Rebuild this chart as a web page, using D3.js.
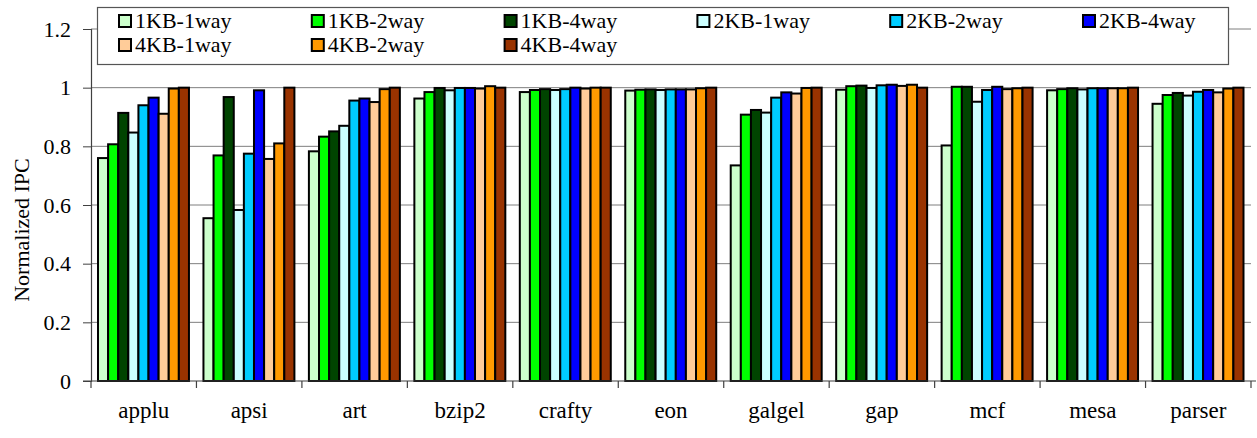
<!DOCTYPE html>
<html>
<head>
<meta charset="utf-8">
<script src="https://cdn.jsdelivr.net/npm/d3@7/dist/d3.min.js"></script>
<style>
  html, body { margin: 0; padding: 0; background: #fff; }
  svg { display: block; }
  svg text { font-family: "Liberation Serif", "Times New Roman", Times, "DejaVu Serif", serif !important; fill: #000; }
</style>
</head>
<body>
<svg id="chart" width="1257" height="438"></svg>
<script>
// Benchmarks on the x axis
const benchmarks = ["applu", "apsi", "art", "bzip2", "crafty", "eon", "galgel", "gap", "mcf", "mesa", "parser"];

// Cache configurations (one bar per configuration in each group)
const configs = ["1KB-1way", "1KB-2way", "1KB-4way", "2KB-1way", "2KB-2way", "2KB-4way", "4KB-1way", "4KB-2way", "4KB-4way"];

// Normalized IPC per configuration, in benchmark order
const kb1way1 = [0.760, 0.555, 0.783, 0.963, 0.985, 0.990, 0.735, 0.993, 0.803, 0.991, 0.945];
const kb1way2 = [0.807, 0.769, 0.833, 0.985, 0.992, 0.993, 0.908, 1.005, 1.003, 0.995, 0.975];
const kb1way4 = [0.914, 0.968, 0.851, 0.999, 0.995, 0.994, 0.924, 1.007, 1.003, 0.998, 0.982];
const kb2way1 = [0.847, 0.583, 0.870, 0.991, 0.992, 0.992, 0.915, 0.999, 0.952, 0.994, 0.973];
const kb2way2 = [0.940, 0.775, 0.956, 0.999, 0.995, 0.994, 0.966, 1.008, 0.992, 0.998, 0.986];
const kb2way4 = [0.966, 0.991, 0.963, 0.999, 1.000, 0.994, 0.984, 1.010, 1.003, 0.998, 0.992];
const kb4way1 = [0.911, 0.757, 0.951, 0.997, 0.997, 0.994, 0.980, 1.006, 0.995, 0.998, 0.984];
const kb4way2 = [0.997, 0.810, 0.995, 1.005, 1.000, 0.998, 0.999, 1.010, 0.998, 0.998, 0.997];
const kb4way4 = [1.000, 1.000, 1.000, 1.000, 1.000, 1.000, 1.000, 1.000, 1.000, 1.000, 1.000];

// Y axis tick labels
const yTicks = [0, 0.2, 0.4, 0.6, 0.8, 1, 1.2];

const seriesValues = [kb1way1, kb1way2, kb1way4, kb2way1, kb2way2, kb2way4, kb4way1, kb4way2, kb4way4];
const colors = ["#ccffcc", "#00ff00", "#004400", "#ccffff", "#00ccff", "#0000ff", "#ffcc99", "#ff9900", "#993300"];

const svg = d3.select("#chart");
const plotLeft = 91, plotRight = 1251, plotTop = 29, plotBottom = 381;
const fontSize = "22px";

const x = d3.scaleBand().domain(benchmarks).range([plotLeft, plotRight]).paddingInner(0).paddingOuter(0);
const xi = d3.scaleBand().domain(configs).range([7, x.bandwidth() - 7.5]).padding(0);
const y = d3.scaleLinear().domain([0, 1.2]).range([plotBottom, plotTop]);
const color = d3.scaleOrdinal().domain(configs).range(colors);

// Horizontal gridlines
svg.append("g")
  .selectAll("line")
  .data(yTicks.filter(d => d > 0))
  .join("line")
  .attr("x1", plotLeft).attr("x2", plotRight)
  .attr("y1", d => y(d)).attr("y2", d => y(d))
  .attr("stroke", "#7f7f7f").attr("stroke-width", 1);

// Bars
const rows = benchmarks.map((b, i) => ({ b, vals: configs.map((c, j) => ({ c, v: seriesValues[j][i] })) }));
svg.append("g")
  .selectAll("g")
  .data(rows)
  .join("g")
  .attr("transform", d => `translate(${x(d.b)},0)`)
  .selectAll("rect")
  .data(d => d.vals)
  .join("rect")
  .attr("x", d => xi(d.c))
  .attr("width", xi.bandwidth())
  .attr("y", d => y(d.v))
  .attr("height", d => y(0) - y(d.v))
  .attr("fill", d => color(d.c))
  .attr("stroke", "#000")
  .attr("stroke-width", 2);

// Y axis
const yAxis = svg.append("g")
  .attr("transform", `translate(${plotLeft},0)`)
  .call(d3.axisLeft(y).tickValues(yTicks).tickFormat(d3.format("")).tickSize(8).tickPadding(12));
yAxis.attr("font-family", null).attr("font-size", null);
yAxis.select(".domain").attr("stroke", "#404040").attr("stroke-width", 1.2);
yAxis.selectAll(".tick line").attr("stroke", "#404040");
yAxis.selectAll("text").style("font-size", fontSize);

// X axis with separators between benchmark groups
const xAxisG = svg.append("g").attr("transform", `translate(0,${plotBottom})`);
xAxisG.append("line")
  .attr("x1", plotLeft - 8).attr("x2", plotRight + 5)
  .attr("stroke", "#404040").attr("stroke-width", 1.2);
xAxisG.selectAll("line.sep")
  .data(benchmarks.concat(["__end"]))
  .join("line")
  .attr("class", "sep")
  .attr("x1", (d, i) => plotLeft + i * x.step()).attr("x2", (d, i) => plotLeft + i * x.step())
  .attr("y1", 0).attr("y2", 7)
  .attr("stroke", "#404040").attr("stroke-width", 1.2);
xAxisG.selectAll("text")
  .data(benchmarks)
  .join("text")
  .attr("x", d => x(d) + x.bandwidth() / 2)
  .attr("y", 37)
  .attr("text-anchor", "middle")
  .style("font-size", "23px")
  .text(d => d);

// Y axis title
svg.append("text")
  .attr("transform", `translate(29,${(plotTop + plotBottom) / 2 + 25}) rotate(-90)`)
  .attr("text-anchor", "middle")
  .style("font-size", fontSize)
  .text("Normalized IPC");

// Legend
const legend = svg.append("g");
legend.append("rect")
  .attr("x", 97.5).attr("y", 7.5).attr("width", 1131).attr("height", 57)
  .attr("fill", "#fff").attr("stroke", "#555").attr("stroke-width", 1.2);
const item = legend.selectAll("g.item")
  .data(configs)
  .join("g")
  .attr("class", "item")
  .attr("transform", (d, i) => `translate(${119 + (i % 6) * 192.8},${i < 6 ? 21 : 45})`);
item.append("rect")
  .attr("x", 0).attr("y", -6).attr("width", 12).attr("height", 12)
  .attr("fill", d => color(d)).attr("stroke", "#000").attr("stroke-width", 2);
item.append("text")
  .attr("x", 16).attr("y", 7)
  .style("font-size", fontSize)
  .text(d => d);
</script>
</body>
</html>
